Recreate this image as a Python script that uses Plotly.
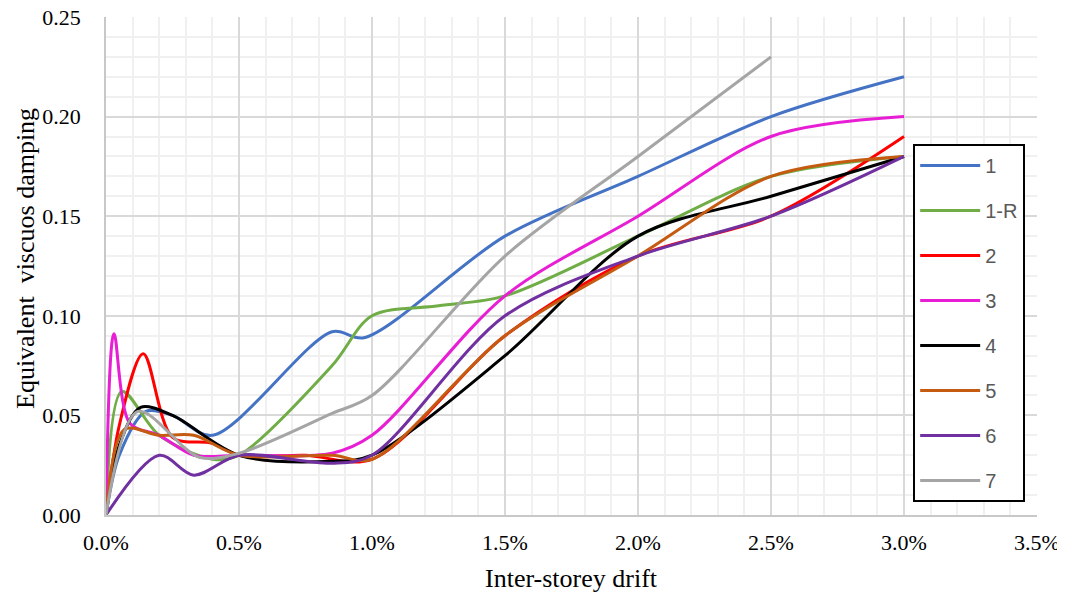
import plotly.graph_objects as go

names = ["1", "1-R", "2", "3", "4", "5", "6", "7"]
colors = ["#4472C4", "#70AD47", "#FF0000", "#E81ED4", "#000000", "#C55A11", "#7030A0", "#A5A5A5"]

x1 = [0, 0.0005, 0.0015, 0.0025, 0.004, 0.0085, 0.0097, 0.015, 0.020, 0.025, 0.030]
y1 = [0, 0.030, 0.052, 0.050, 0.040, 0.092, 0.089, 0.140, 0.170, 0.200, 0.220]

x1r = [0, 0.0006, 0.002, 0.004, 0.005, 0.0085, 0.010, 0.0125, 0.015, 0.020, 0.025, 0.030]
y1r = [0, 0.062, 0.040, 0.028, 0.030, 0.075, 0.100, 0.105, 0.110, 0.140, 0.170, 0.180]

x2 = [0, 0.0005, 0.0014, 0.0025, 0.004, 0.005, 0.0075, 0.010, 0.015, 0.020, 0.025, 0.030]
y2 = [0, 0.045, 0.081, 0.039, 0.036, 0.030, 0.030, 0.028, 0.090, 0.130, 0.150, 0.190]

x3 = [0, 0.0003, 0.0009, 0.002, 0.0033, 0.005, 0.0085, 0.010, 0.015, 0.020, 0.025, 0.030]
y3 = [0, 0.091, 0.046, 0.040, 0.030, 0.030, 0.031, 0.040, 0.110, 0.150, 0.190, 0.200]

x4 = [0, 0.0005, 0.0013, 0.0025, 0.005, 0.0085, 0.010, 0.015, 0.020, 0.025, 0.030]
y4 = [0, 0.035, 0.054, 0.050, 0.030, 0.027, 0.030, 0.080, 0.140, 0.160, 0.180]

x5 = [0, 0.0007, 0.002, 0.0033, 0.005, 0.0085, 0.010, 0.015, 0.020, 0.025, 0.030]
y5 = [0, 0.043, 0.040, 0.040, 0.030, 0.030, 0.028, 0.090, 0.130, 0.170, 0.180]

x6 = [0, 0.002, 0.0033, 0.005, 0.0085, 0.010, 0.015, 0.020, 0.025, 0.030]
y6 = [0, 0.030, 0.020, 0.030, 0.026, 0.030, 0.100, 0.130, 0.150, 0.180]

x7 = [0, 0.0012, 0.0035, 0.005, 0.0085, 0.010, 0.015, 0.020, 0.025]
y7 = [0, 0.052, 0.029, 0.031, 0.051, 0.060, 0.130, 0.180, 0.230]

xs = [x1, x1r, x2, x3, x4, x5, x6, x7]
ys = [y1, y1r, y2, y3, y4, y5, y6, y7]

x_ticks = [0, 0.005, 0.010, 0.015, 0.020, 0.025, 0.030, 0.035]
y_ticks = [0, 0.05, 0.10, 0.15, 0.20, 0.25]

fig = go.Figure()
for i, (n, c) in enumerate(zip(names, colors)):
    fig.add_trace(go.Scatter(
        x=xs[i], y=ys[i], name=n, mode="lines",
        line=dict(color=c, width=3, shape="spline", smoothing=0.9),
        legendgroup=n,
    ))

serif = "Liberation Serif, Times New Roman, serif"
fig.update_layout(
    width=1057, height=588,
    margin=dict(l=98, r=28, t=9, b=81),
    paper_bgcolor="white", plot_bgcolor="white",
    showlegend=True,
    legend=dict(
        x=0.867, y=0.745, xanchor="left", yanchor="top",
        bordercolor="black", borderwidth=2, bgcolor="white",
        font=dict(family="Liberation Sans, Arial, sans-serif", size=20, color="#595959"),
        traceorder="grouped", tracegroupgap=16, itemwidth=60,
    ),
    xaxis=dict(
        range=[0, 0.035], tickvals=x_ticks, tickformat=".1%",
        showgrid=True, gridcolor="#d9d9d9", gridwidth=1.5,
        minor=dict(dtick=0.001, showgrid=True, gridcolor="#f0f0f0", gridwidth=1.5),
        showline=True, linecolor="#c8c8c8", linewidth=1.5, zeroline=False,
        ticks="", ticklabelstandoff=7, automargin=False, ticklabeloverflow="allow",
        tickfont=dict(family=serif, size=22, color="black"),
    ),
    yaxis=dict(
        range=[0, 0.25], tickvals=y_ticks, tickformat=".2f",
        showgrid=True, gridcolor="#d9d9d9", gridwidth=1.5,
        minor=dict(dtick=0.01, showgrid=True, gridcolor="#f0f0f0", gridwidth=1.5),
        showline=True, linecolor="#c8c8c8", linewidth=1.5, zeroline=False,
        ticks="", ticklabelstandoff=19, automargin=False, ticklabeloverflow="allow",
        tickfont=dict(family=serif, size=22, color="black"),
    ),
    annotations=[
        dict(text="Inter-storey drift", xref="paper", yref="paper", x=0.5, y=0,
             xanchor="center", yanchor="middle", yshift=-63, showarrow=False,
             font=dict(family=serif, size=26, color="black")),
        dict(text="Equivalent\u00a0 viscuos damping", xref="paper", yref="paper", x=0, y=0.5,
             xanchor="center", yanchor="middle", xshift=-81, yshift=7, textangle=-90,
             showarrow=False, font=dict(family=serif, size=26, color="black")),
    ],
)

fig.write_html("out.html")
